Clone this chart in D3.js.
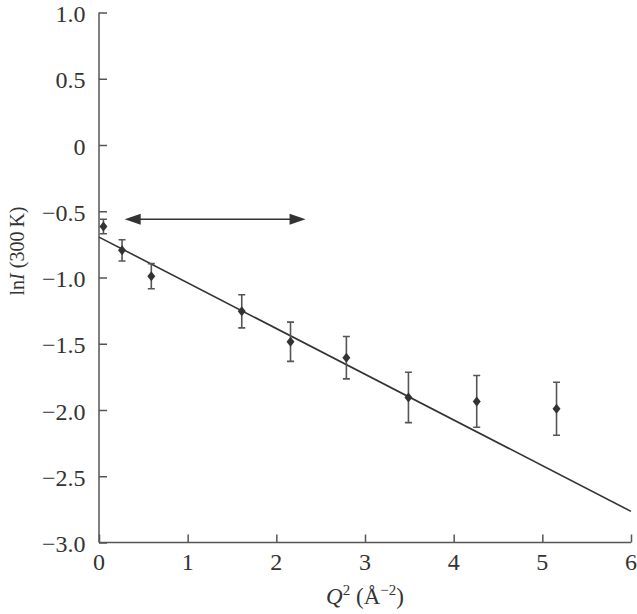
<!DOCTYPE html>
<html>
<head>
<meta charset="utf-8">
<script src="https://cdn.jsdelivr.net/npm/d3@7"></script>
<style>
  html, body { margin: 0; padding: 0; background: #fff; }
  svg { display: block; }
  text { font-family: "Liberation Serif", "Times New Roman", serif; fill: #333; }
</style>
</head>
<body>
<svg id="chart" width="637" height="614"></svg>
<script>
// Data
const q2Values   = [0.05, 0.26, 0.59, 1.61, 2.16, 2.79, 3.49, 4.26, 5.16];
const lnIValues  = [-0.615, -0.795, -0.99, -1.255, -1.485, -1.605, -1.905, -1.935, -1.99];
const errValues  = [0.055, 0.08, 0.095, 0.125, 0.148, 0.16, 0.19, 0.195, 0.2];
const fitX       = [0, 6];
const fitY       = [-0.695, -2.765];
const arrowX     = [0.29, 2.33];
const arrowY     = -0.56;
const xTicks     = [0, 1, 2, 3, 4, 5, 6];
const yTicks     = [1.0, 0.5, 0, -0.5, -1.0, -1.5, -2.0, -2.5, -3.0];
const yTickLabels = ["1.0", "0.5", "0", "\u22120.5", "\u22121.0", "\u22121.5", "\u22122.0", "\u22122.5", "\u22123.0"];

const svg = d3.select("#chart");
const x = d3.scaleLinear().domain([0, 6]).range([99, 631]);
const y = d3.scaleLinear().domain([-3, 1]).range([542.5, 12.5]);
const axisColor = "#555";
const markColor = "#333";

// y axis
const yAxis = d3.axisRight(y).tickValues(yTicks).tickSize(8).tickFormat("");
const yMinor = d3.axisRight(y).tickValues(d3.range(-30, 11).map(d => d / 10)).tickSize(4).tickFormat("");
const gy = svg.append("g").attr("transform", `translate(${x(0)},0)`);
gy.call(yMinor);
gy.call(yAxis);
gy.selectAll("path, line").attr("stroke", axisColor).attr("stroke-width", 1.5);
gy.selectAll(".domain").attr("d", `M0,${y(1)}H0V${y(-3)}`);

svg.append("g").selectAll("text").data(yTicks).join("text")
  .attr("x", 85.5).attr("y", d => y(d)).attr("dy", "0.4em")
  .attr("text-anchor", "end").attr("font-size", 24)
  .text((d, i) => yTickLabels[i]);

// x axis
const xAxis = d3.axisTop(x).tickValues(xTicks).tickSize(8).tickFormat("");
const xMinor = d3.axisTop(x).tickValues(d3.range(0, 31).map(d => d / 5)).tickSize(4).tickFormat("");
const gx = svg.append("g").attr("transform", `translate(0,${y(-3)})`);
gx.call(xMinor);
gx.call(xAxis);
gx.selectAll("path, line").attr("stroke", axisColor).attr("stroke-width", 1.5);
gx.selectAll(".domain").attr("d", `M${x(0)},0H${x(6)}`);

svg.append("g").selectAll("text").data(xTicks).join("text")
  .attr("x", d => x(d)).attr("y", 570)
  .attr("text-anchor", "middle").attr("font-size", 24)
  .text(d => d);

// axis labels
const xl = svg.append("text").attr("x", 365).attr("y", 604)
  .attr("text-anchor", "middle").attr("font-size", 23);
xl.append("tspan").attr("font-style", "italic").text("Q");
xl.append("tspan").attr("font-size", 15).attr("dy", -9).text("2");
xl.append("tspan").attr("dy", 9).text(" (\u00C5");
xl.append("tspan").attr("font-size", 15).attr("dy", -9).text("\u22122");
xl.append("tspan").attr("dy", 9).text(")");

const yl = svg.append("text")
  .attr("transform", "translate(24,251) rotate(-90)")
  .attr("text-anchor", "middle").attr("font-size", 20);
yl.append("tspan").text("ln");
yl.append("tspan").attr("font-style", "italic").text("I");
yl.append("tspan").text(" (300\u2009K)");

// fit line
const line = d3.line().x(d => x(d[0])).y(d => y(d[1]));
svg.append("path")
  .datum(fitX.map((d, i) => [d, fitY[i]]))
  .attr("d", line)
  .attr("stroke", markColor).attr("stroke-width", 1.6).attr("fill", "none");

// error bars
const pts = q2Values.map((d, i) => ({ q: d, v: lnIValues[i], e: errValues[i] }));
const eb = svg.append("g").attr("stroke", "#555").attr("stroke-width", 1.6).attr("fill", "none");
eb.selectAll("path").data(pts).join("path")
  .attr("d", d => {
    const cx = x(d.q), t = y(d.v + d.e), b = y(d.v - d.e), w = 3.5;
    return `M${cx},${t}V${b}M${cx - w},${t}H${cx + w}M${cx - w},${b}H${cx + w}`;
  });

// diamond markers
svg.append("g").selectAll("path").data(pts).join("path")
  .attr("transform", d => `translate(${x(d.q)},${y(d.v)})`)
  .attr("d", "M0,-5L4,0L0,5L-4,0Z")
  .attr("fill", markColor);

// double-headed arrow
const ax0 = x(arrowX[0]), ax1 = x(arrowX[1]), ay = y(arrowY);
const headL = 16, headW = 5.5;
svg.append("line")
  .attr("x1", ax0 + headL - 1).attr("x2", ax1 - headL + 1)
  .attr("y1", ay).attr("y2", ay)
  .attr("stroke", markColor).attr("stroke-width", 1.6);
svg.append("path")
  .attr("d", `M${ax0},${ay}L${ax0 + headL},${ay - headW}L${ax0 + headL},${ay + headW}Z`)
  .attr("fill", markColor);
svg.append("path")
  .attr("d", `M${ax1},${ay}L${ax1 - headL},${ay - headW}L${ax1 - headL},${ay + headW}Z`)
  .attr("fill", markColor);
</script>
</body>
</html>
